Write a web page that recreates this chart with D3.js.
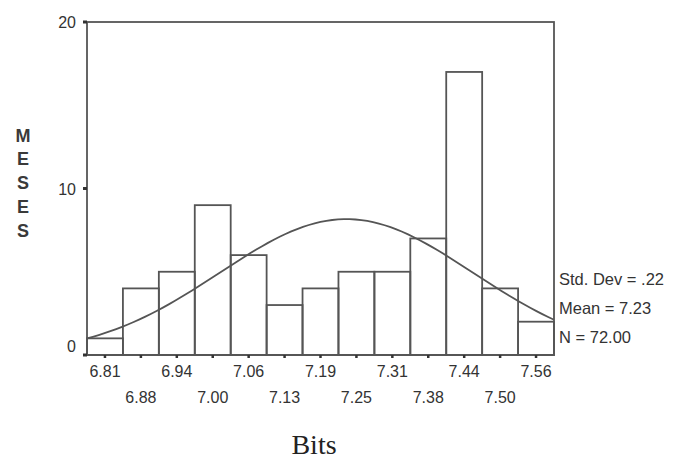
<!DOCTYPE html>
<html><head><meta charset="utf-8">
<script src="https://cdn.jsdelivr.net/npm/d3@7"></script>
<style>body{margin:0;background:#fff;}svg{display:block;}</style>
</head><body>
<svg id="c" width="673" height="459"></svg>
<script>
const binLabels = ["6.81","6.88","6.94","7.00","7.06","7.13","7.19","7.25","7.31","7.38","7.44","7.50","7.56"];
const counts = [1,4,5,9,6,3,4,5,5,7,17,4,2];
const yTicks = [0,10,20];
const statsLines = ["Std. Dev = .22","Mean = 7.23","N = 72.00"];
const stdDev = 0.22, meanVal = 7.23, nTotal = 72;
const binStart = 6.81, binStep = 0.0625;

const svg = d3.select("#c");
const L = 87, R = 554, T = 22, B = 355;
const ink = "#555", txt = "#333";
const sans = "Liberation Sans, Arial, sans-serif";

const x = d3.scaleLinear().domain([binStart - binStep/2, binStart + binStep*(counts.length-0.5)]).range([L, R]);
const y = d3.scaleLinear().domain([0, 20]).range([B, T]);

// frame
svg.append("rect").attr("x", L).attr("y", T).attr("width", R-L).attr("height", B-T)
  .attr("fill","none").attr("stroke", ink).attr("stroke-width", 1.8);

// bars
svg.selectAll("rect.bar").data(counts).enter().append("rect").attr("class","bar")
  .attr("x", (d,i)=>x(binStart + binStep*(i-0.5)))
  .attr("width", (d,i)=>x(binStart + binStep*(i+0.5)) - x(binStart + binStep*(i-0.5)))
  .attr("y", d=>y(d)).attr("height", d=>B - y(d))
  .attr("fill","none").attr("stroke", ink).attr("stroke-width", 1.8);

// normal curve from displayed stats
const pts = d3.range(0, 81).map(k => {
  const v = x.domain()[0] + (x.domain()[1]-x.domain()[0])*k/80;
  const dens = nTotal*binStep/(stdDev*Math.sqrt(2*Math.PI))*Math.exp(-0.5*Math.pow((v-meanVal)/stdDev,2));
  return [x(v), y(dens)];
});
svg.append("path").attr("d", d3.line()(pts)).attr("fill","none").attr("stroke", ink).attr("stroke-width",1.8);

// x axis ticks + labels
const xa = svg.append("g").attr("transform",`translate(0,${B})`);
binLabels.forEach((lab,i)=>{
  const cx = x(binStart + binStep*i);
  xa.append("line").attr("x1",cx).attr("x2",cx).attr("y1",0).attr("y2",3).attr("stroke","#333").attr("stroke-width",2.5);
  xa.append("text").attr("x",cx).attr("y", i%2===0 ? 22 : 48).attr("text-anchor","middle")
    .attr("font-family",sans).attr("font-size",16).attr("fill",txt).text(lab);
});

// y axis ticks + labels
yTicks.forEach(t=>{
  svg.append("rect").attr("x", L-4).attr("y", y(t)-1.5).attr("width",4).attr("height",3).attr("fill","#333");
  svg.append("text").attr("x", L-11).attr("y", y(t) + (t===0 ? -3.5 : 6)).attr("text-anchor","end")
    .attr("font-family",sans).attr("font-size",16).attr("fill",txt).text(t);
});

// y title stacked letters
"MESES".split("").forEach((ch,i)=>{
  svg.append("text").attr("x",23).attr("y",141.5 + i*23.8).attr("text-anchor","middle")
    .attr("font-family",sans).attr("font-size",18).attr("font-weight","bold").attr("fill","#3a3a3a").text(ch);
});

// x title
svg.append("text").attr("x",314).attr("y",454).attr("text-anchor","middle")
  .attr("font-family","Liberation Serif, Times New Roman, serif").attr("font-size",28).attr("fill","#222").text("Bits");

// stats
statsLines.forEach((s,i)=>{
  svg.append("text").attr("x",559).attr("y",285 + i*29)
    .attr("font-family",sans).attr("font-size",16.5).attr("fill",txt).text(s);
});
</script>
</body></html>
